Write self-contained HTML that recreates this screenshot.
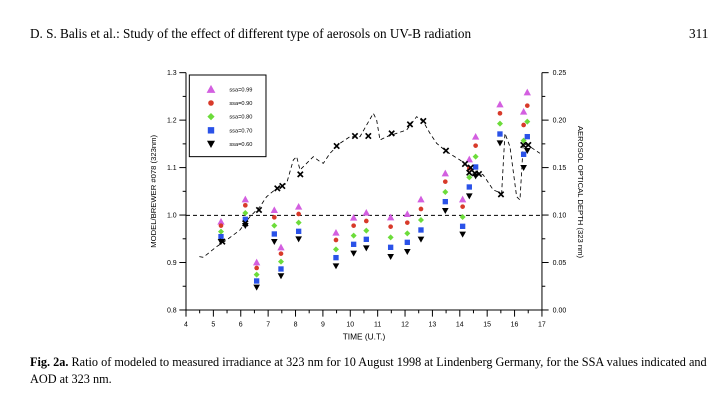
<!DOCTYPE html>
<html><head><meta charset="utf-8"><style>
body{margin:0;width:720px;height:407px;background:#fff;overflow:hidden;position:relative;font-family:"Liberation Serif",serif;color:#000}
.h{position:absolute;top:26px;font-size:13.2px;white-space:nowrap}
.c{position:absolute;left:30px;font-size:12.25px;white-space:nowrap}
svg{position:absolute;left:0;top:0}
</style></head><body>
<div class="h" style="left:30px">D. S. Balis et al.: Study of the effect of different type of aerosols on UV-B radiation</div>
<div class="h" style="left:689px">311</div>
<div class="c" style="top:355px"><b>Fig. 2a.</b> Ratio of modeled to measured irradiance at 323 nm for 10 August 1998 at Lindenberg Germany, for the SSA values indicated and</div>
<div class="c" style="top:372px">AOD at 323 nm.</div>
<svg width="720" height="407" xmlns="http://www.w3.org/2000/svg">
<g id="g" transform="translate(140,60) scale(0.3333)" font-family="Liberation Sans, sans-serif"></g>
</svg>
<script>
var g=document.getElementById('g'),s='';
function L(a,b,c,d,w,da){s+='<line x1="'+a+'" y1="'+b+'" x2="'+c+'" y2="'+d+'" stroke="#000" stroke-width="'+(w||3)+'"'+(da?' stroke-dasharray="'+da+'"':'')+'/>';}
function T(x,y,t,a,fs){s+='<text x="'+x+'" y="'+y+'" font-size="'+(fs||21)+'" text-anchor="'+(a||'middle')+'">'+t+'</text>';}
L(138,38,138,750);L(1206,38,1206,750);L(138,750,1206,750);
var yl=['1.3','1.2','1.1','1.0','0.9','0.8'],yr=['0.25','0.20','0.15','0.10','0.05','0.00'];
for(var i=0;i<6;i++){var y=38+i*142.4;L(118,y,138,y);L(1206,y,1226,y);T(110,y+7,yl[i],'end');T(1238,y+7,yr[i],'start');
if(i<5){L(128,y+71.2,138,y+71.2);L(1206,y+71.2,1216,y+71.2);}}
for(var h=4;h<=17;h++){var x=138+(h-4)*82.15;L(x,750,x,770);T(x,800,h);if(h<17)L(x+41,750,x+41,760);}
T(672,838,'TIME (U.T.)','middle',25);
s+='<text transform="translate(48,394) rotate(-90)" font-size="23" text-anchor="middle">MODEL/BREWER #078 (323nm)</text>';
s+='<text transform="translate(1314,396) rotate(90)" font-size="23" text-anchor="middle">AEROSOL OPTICAL DEPTH (323 nm)</text>';
L(138,466,1206,466,3,'12,9');
var p=[[178,590],[190,592],[205,580],[230,560],[260,540],[300,510],[330,470],[360,440],[380,410],[410,385],[440,370],[460,300],[470,290],[480,330],[500,310],[520,290],[540,305],[550,310],[570,280],[600,250],[630,230],[660,230],[700,160],[710,180],[720,240],[740,230],[770,220],[800,210],[830,170],[850,185],[870,220],[890,250],[920,275],[960,300],[1000,330],[1030,345],[1060,390],[1085,400],[1095,220],[1110,260],[1130,410],[1140,420],[1150,250],[1170,260],[1200,280]];
s+='<polyline fill="none" stroke="#000" stroke-width="2.5" stroke-dasharray="12,9" points="'+p.join(' ')+'"/>';
function M(t,x,y,k){var r=k||1;
if(t==0)s+='<polygon fill="#d35fe0" points="'+x+','+(y-11*r)+' '+(x+11*r)+','+(y+9*r)+' '+(x-11*r)+','+(y+9*r)+'"/>';
if(t==1)s+='<circle fill="#d83a2a" cx="'+x+'" cy="'+y+'" r="'+(7*r)+'"/>';
if(t==2)s+='<polygon fill="#6cdc3a" points="'+x+','+(y-9*r)+' '+(x+9*r)+','+y+' '+x+','+(y+9*r)+' '+(x-9*r)+','+y+'"/>';
if(t==3)s+='<rect fill="#2a52e8" x="'+(x-8*r)+'" y="'+(y-8*r)+'" width="'+(16*r)+'" height="'+(16*r)+'"/>';
if(t==4)s+='<polygon fill="#000" points="'+(x-10*r)+','+(y-8*r)+' '+(x+10*r)+','+(y-8*r)+' '+x+','+(y+10*r)+'"/>';}
var d=[[243,485,497,515,530,545],[316,418,436,459,478,497],[350,607,624,644,663,682],[403,450,472,497,522,545],[423,562,581,605,627,648],[476,440,462,488,514,537],[588,518,540,568,593,618],[641,473,497,527,553,580],[679,458,483,512,538,564],[752,472,500,532,562,590],[802,462,488,520,547,575],[843,418,447,480,510,538],[916,340,365,396,425,452],[968,418,440,471,499,523],[988,298,325,352,381,408],[1007,230,257,290,321,348],[1080,133,160,191,222,249],[1151,155,195,242,283,323],[1162,97,137,185,230,272]];
d.forEach(function(c){for(var k=0;k<5;k++)M(k,c[0],c[k+1]);});
var xs=[[247,545],[316,490],[357,450],[412,385],[427,378],[481,343],[590,258],[645,228],[685,228],[755,220],[810,193],[850,183],[918,272],[975,312],[988,338],[1005,340],[1017,342],[1083,403],[1150,255],[1165,255],[992,323]];
xs.forEach(function(q){var x=q[0],y=q[1];L(x-8,y-8,x+8,y+8,5);L(x-8,y+8,x+8,y-8,5);});
s+='<rect x="148" y="45" width="230" height="245" fill="#fff" stroke="#000" stroke-width="3"/>';
var lab=['ssa=0.99','ssa=0.90','ssa=0.80','ssa=0.70','ssa=0.60'];
for(var k=0;k<5;k++){var y=88+k*41;M(k,213,y,1.2);T(268,y+6,lab[k],'start',17);}
g.innerHTML=s;
</script>
</body></html>
